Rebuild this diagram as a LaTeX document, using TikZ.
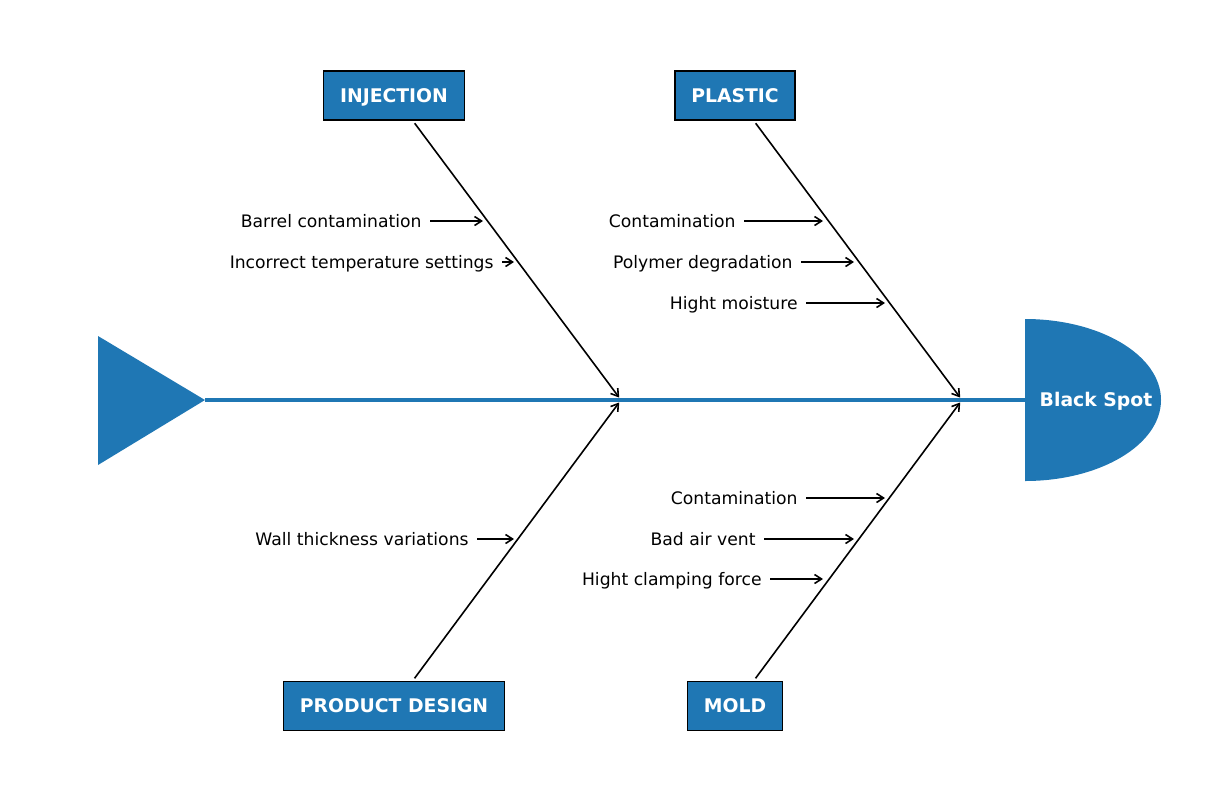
\documentclass[tikz,border=0pt]{standalone}
\usepackage{fontspec}
\setmainfont{DejaVu Sans}
\usetikzlibrary{positioning, arrows.meta}
\definecolor{fishblue}{HTML}{1F77B4}

\begin{document}
\begin{tikzpicture}[x=0.5pt, y=-0.5pt, >={Straight Barb[length=3.5pt, width=4.5pt]},
  category/.style={draw=black, line width=0.8pt, fill=fishblue, text=white, font=\fontsize{9.4}{11}\selectfont\bfseries, inner xsep=8.2pt, minimum height=24.5pt, text height=6.9pt, text depth=0pt},
  cause/.style={anchor=east, font=\fontsize{8.6}{10}\selectfont, inner xsep=4pt, inner ysep=0pt, text height=6.2pt, text depth=0pt},
  bone/.style={->, line width=0.8pt, shorten <=1.5pt, shorten >=1.5pt},
  twig/.style={->, line width=0.8pt}]
\useasboundingbox (0,0) rectangle (1232,810);

% spine, tail and head
\coordinate (tail) at (205,400);
\coordinate (neck) at (1025,400);
\coordinate (j1) at (621,400);
\coordinate (j2) at (962,400);
\fill[fishblue] (98,336) -- (98,465) -- (tail) -- cycle;
\draw[fishblue, line width=1.8pt] (tail) -- (neck);
\fill[fishblue] (neck) ++(0,81) arc[start angle=-90, end angle=90, x radius=68pt, y radius=40.5pt] -- cycle;
\node[text=white, font=\fontsize{9.4}{11}\selectfont\bfseries, text height=6.9pt, text depth=0pt] (head) at (1096,400) {Black Spot};

% categories
\node[category] (inj) at (394,95.5) {INJECTION};
\node[category] (pla) at (735,95.5) {PLASTIC};
\node[category] (des) at (394,706) {PRODUCT DESIGN};
\node[category] (mol) at (735,706) {MOLD};

\draw[bone] (inj) -- (j1);
\draw[bone] (pla) -- (j2);
\draw[bone] (des) -- (j1);
\draw[bone] (mol) -- (j2);

% causes
\node[cause] (c1) at (430,221) {Barrel contamination};
\node[cause] (c2) at (502,262) {Incorrect temperature settings};
\node[cause] (c3) at (744,221) {Contamination};
\node[cause] (c4) at (801,262) {Polymer degradation};
\node[cause] (c5) at (806,303) {Hight moisture};
\node[cause] (c6) at (477,539) {Wall thickness variations};
\node[cause] (c7) at (806,498) {Contamination};
\node[cause] (c8) at (764,539) {Bad air vent};
\node[cause] (c9) at (770,579) {Hight clamping force};

\coordinate (t1) at (483,221);
\coordinate (t2) at (514,262);
\coordinate (t3) at (823,221);
\coordinate (t4) at (854,262);
\coordinate (t5) at (885,303);
\coordinate (t6) at (514,539);
\coordinate (t7) at (885,498);
\coordinate (t8) at (854,539);
\coordinate (t9) at (823,579);

\draw[twig] (c1) -- (t1);
\draw[twig] (c2) -- (t2);
\draw[twig] (c3) -- (t3);
\draw[twig] (c4) -- (t4);
\draw[twig] (c5) -- (t5);
\draw[twig] (c6) -- (t6);
\draw[twig] (c7) -- (t7);
\draw[twig] (c8) -- (t8);
\draw[twig] (c9) -- (t9);
\end{tikzpicture}
\end{document}
